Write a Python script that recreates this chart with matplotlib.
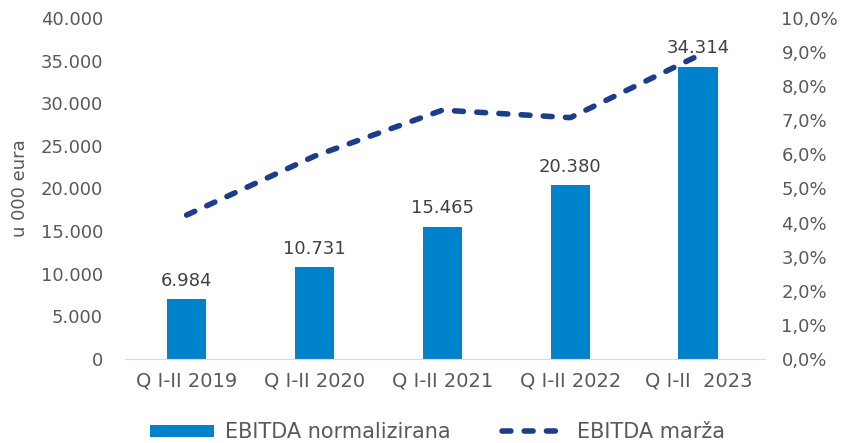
import matplotlib
matplotlib.use("Agg")
import matplotlib.pyplot as plt
from matplotlib.ticker import FuncFormatter

# Data
periods = ["Q I-II 2019", "Q I-II 2020", "Q I-II 2021", "Q I-II 2022", "Q I-II  2023"]
ebitda = [6984, 10731, 15465, 20380, 34314]
margin = [4.22, 5.95, 7.3, 7.08, 8.9]

bar_color = "#0082CA"
line_color = "#1C3C8C"
text_color = "#595959"

plt.rcParams["font.family"] = "sans-serif"
plt.rcParams["font.sans-serif"] = ["DejaVu Sans"]

fig = plt.figure(figsize=(8.46, 4.43), dpi=100)
ax = fig.add_axes([0.148, 0.19, 0.756, 0.769])

x = range(len(periods))
bars = ax.bar(x, ebitda, width=0.31, color=bar_color, label="EBITDA normalizirana", zorder=2)

def thousands(v, pos):
    return f"{int(v):,}".replace(",", ".")

for xi, v in zip(x, ebitda):
    ax.annotate(thousands(v, None), (xi, v), xytext=(0, 7), textcoords="offset points",
                ha="center", va="bottom", fontsize=13, color="#404040", zorder=4)

ax.set_ylim(0, 40000)
ax.set_yticks(range(0, 40001, 5000))
ax.yaxis.set_major_formatter(FuncFormatter(thousands))
ax.set_xlim(-0.48, 4.52)
ax.set_xticks(list(x))
ax.set_xticklabels(periods, fontsize=14, color=text_color)
ax.set_ylabel("u 000 eura", fontsize=13, color=text_color, labelpad=8)

for s in ["top", "left", "right"]:
    ax.spines[s].set_visible(False)
ax.spines["bottom"].set_color("#D9D9D9")
ax.tick_params(axis="both", length=0, colors=text_color)
ax.tick_params(axis="y", labelsize=13, pad=16)
ax.tick_params(axis="x", pad=9)

ax2 = ax.twinx()
line, = ax2.plot(list(x), margin, color=line_color, linewidth=4, linestyle=(0, (1.6, 2.4)),
                 dash_capstyle="round", label="EBITDA marža", zorder=3)
ax2.set_ylim(0, 10)
ax2.set_yticks(range(0, 11))
ax2.yaxis.set_major_formatter(FuncFormatter(lambda v, p: f"{v:.1f}%".replace(".", ",")))
for s in ["top", "left", "right", "bottom"]:
    ax2.spines[s].set_visible(False)
ax2.tick_params(axis="y", length=0, labelsize=13, colors=text_color, pad=12)

fig.legend(handles=[bars, line], labels=["EBITDA normalizirana", "EBITDA marža"],
           loc="lower center", bbox_to_anchor=(0.517, -0.04), ncol=2, frameon=False,
           fontsize=15, labelcolor=text_color, handlelength=3.1, handleheight=0.5,
           columnspacing=2.5, handletextpad=0.5)

fig.savefig("out.png", dpi=100)
